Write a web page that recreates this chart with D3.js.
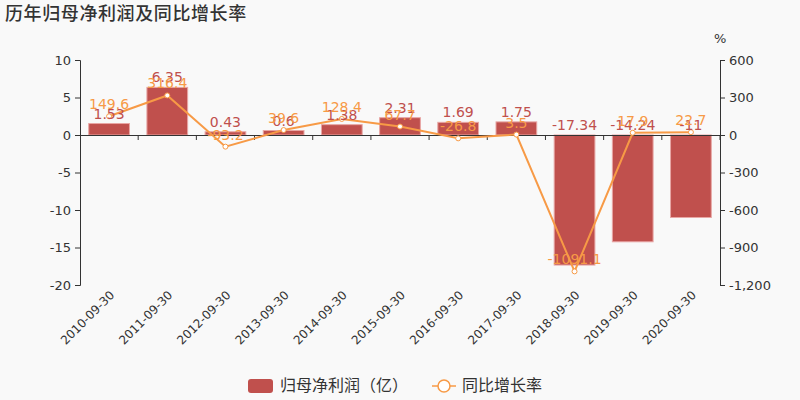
<!DOCTYPE html>
<html>
<head>
<meta charset="utf-8">
<script src="https://cdn.jsdelivr.net/npm/d3@7"></script>
<style>
  body { margin: 0; background: #f9f9f9; }
  svg { font-family: "Noto Sans CJK SC", "DejaVu Sans", sans-serif; }
</style>
</head>
<body>
<svg id="chart" width="800" height="400"></svg>
<script>
const categories = ["2010-09-30", "2011-09-30", "2012-09-30", "2013-09-30", "2014-09-30", "2015-09-30",
  "2016-09-30", "2017-09-30", "2018-09-30", "2019-09-30", "2020-09-30"];
const profit = [1.53, 6.35, 0.43, 0.6, 1.38, 2.31, 1.69, 1.75, -17.34, -14.24, -11];
const profitLabels = ["1.53", "6.35", "0.43", "0.6", "1.38", "2.31", "1.69", "1.75", "-17.34", "-14.24", "-11"];
const growth = [149.6, 316.4, -93.2, 39.6, 128.4, 67.7, -26.8, 3.5, -1091.1, 17.9, 22.7];
const leftTicks = [10, 5, 0, -5, -10, -15, -20];
const rightTicks = [600, 300, 0, -300, -600, -900, -1200];

const svg = d3.select("#chart");
const margin = { top: 60, right: 80, bottom: 115, left: 80 },
  width = 800 - margin.left - margin.right,
  height = 400 - margin.top - margin.bottom;

const barColor = "#c0504d", lineColor = "#f79a46", textColor = "#333";

svg.append("rect").attr("width", 800).attr("height", 400).attr("fill", "#f9f9f9");

svg.append("text")
  .attr("x", 5).attr("y", 20)
  .attr("font-size", 18).attr("font-weight", 500).attr("fill", textColor)
  .attr("letter-spacing", 0.6)
  .text("历年归母净利润及同比增长率");

const g = svg.append("g").attr("transform", `translate(${margin.left},${margin.top})`);

const x = d3.scaleBand().domain(categories).range([0, width]).paddingInner(0.3).paddingOuter(0.15);
const xb = d3.scaleBand().domain(categories).range([0, width]);
const y = d3.scaleLinear().domain([-20, 10]).range([height, 0]);
const y2 = d3.scaleLinear().domain([-1200, 600]).range([height, 0]);

// left axis
const la = g.append("g")
  .call(d3.axisLeft(y).tickValues(leftTicks).tickSize(5).tickPadding(4));
la.select(".domain").attr("stroke", textColor);
la.selectAll("line").attr("stroke", textColor);
la.selectAll("text").attr("font-size", 13).attr("fill", textColor).attr("font-family", "DejaVu Sans")
  .text(d => String(d));

// right axis
const ra = g.append("g").attr("transform", `translate(${width},0)`)
  .call(d3.axisRight(y2).tickValues(rightTicks).tickSize(5).tickPadding(4));
ra.select(".domain").attr("stroke", textColor);
ra.selectAll("line").attr("stroke", textColor);
ra.selectAll("text").attr("font-size", 13).attr("fill", textColor).attr("font-family", "DejaVu Sans")
  .text(d => d3.format(",")(d).replace("−", "-"));

g.append("text").attr("x", width - 6).attr("y", -17)
  .attr("font-size", 13).attr("fill", textColor).attr("font-family", "DejaVu Sans").text("%");

// bars
g.selectAll(".bar").data(profit).enter().append("rect")
  .attr("x", (d, i) => x(categories[i]))
  .attr("width", x.bandwidth())
  .attr("y", d => Math.min(y(d), y(0)))
  .attr("height", d => Math.abs(y(d) - y(0)))
  .attr("fill", barColor)
  .attr("stroke", "#e8a6a4").attr("stroke-width", 1);

// category axis on zero line
const xa = g.append("g").attr("transform", `translate(0,${y(0)})`)
  .call(d3.axisBottom(xb).tickSize(5).tickFormat("").tickSizeOuter(0));
xa.selectAll(".tick").attr("transform", d => `translate(${xb(d) + xb.bandwidth()},0)`);
xa.select(".domain").attr("stroke", textColor);
xa.selectAll("line").attr("stroke", textColor);

// rotated category labels at bottom
g.selectAll(".xl").data(categories).enter().append("text")
  .attr("transform", d => `translate(${xb(d) + xb.bandwidth() / 2},${height + 5}) rotate(-45)`)
  .attr("text-anchor", "end").attr("dy", "0.7em")
  .attr("font-size", 12).attr("fill", textColor).attr("font-family", "DejaVu Sans")
  .text(d => d);

// line
const cx = i => xb(categories[i]) + xb.bandwidth() / 2;
const line = d3.line().x((d, i) => cx(i)).y(d => y2(d));
g.append("path").datum(growth)
  .attr("fill", "none").attr("stroke", lineColor).attr("stroke-width", 2).attr("d", line);
g.selectAll(".pt").data(growth).enter().append("circle")
  .attr("cx", (d, i) => cx(i)).attr("cy", d => y2(d)).attr("r", 2.5)
  .attr("fill", "#fff").attr("stroke", lineColor).attr("stroke-width", 1);

// bar labels
g.selectAll(".bl").data(profit).enter().append("text")
  .attr("x", (d, i) => cx(i))
  .attr("y", d => Math.min(y(d), y(0)) - 5)
  .attr("text-anchor", "middle").attr("font-size", 14).attr("fill", barColor)
  .attr("font-family", "DejaVu Sans")
  .text((d, i) => profitLabels[i]);

// growth labels
g.selectAll(".gl").data(growth).enter().append("text")
  .attr("x", (d, i) => cx(i))
  .attr("y", d => y2(d) - 7)
  .attr("text-anchor", "middle").attr("font-size", 14).attr("fill", lineColor)
  .attr("font-family", "DejaVu Sans")
  .text(d => String(d));

// legend
const lg = svg.append("g");
lg.append("rect").attr("x", 248).attr("y", 379).attr("width", 25).attr("height", 14).attr("rx", 3)
  .attr("fill", barColor);
lg.append("text").attr("x", 280).attr("y", 391).attr("font-size", 16).attr("fill", textColor)
  .text("归母净利润（亿）");
lg.append("line").attr("x1", 432).attr("x2", 456).attr("y1", 386).attr("y2", 386)
  .attr("stroke", lineColor).attr("stroke-width", 1.5);
lg.append("circle").attr("cx", 444).attr("cy", 386).attr("r", 6)
  .attr("fill", "#fff").attr("stroke", lineColor).attr("stroke-width", 1.5);
lg.append("text").attr("x", 462).attr("y", 391).attr("font-size", 16).attr("fill", textColor)
  .text("同比增长率");
</script>
</body>
</html>
